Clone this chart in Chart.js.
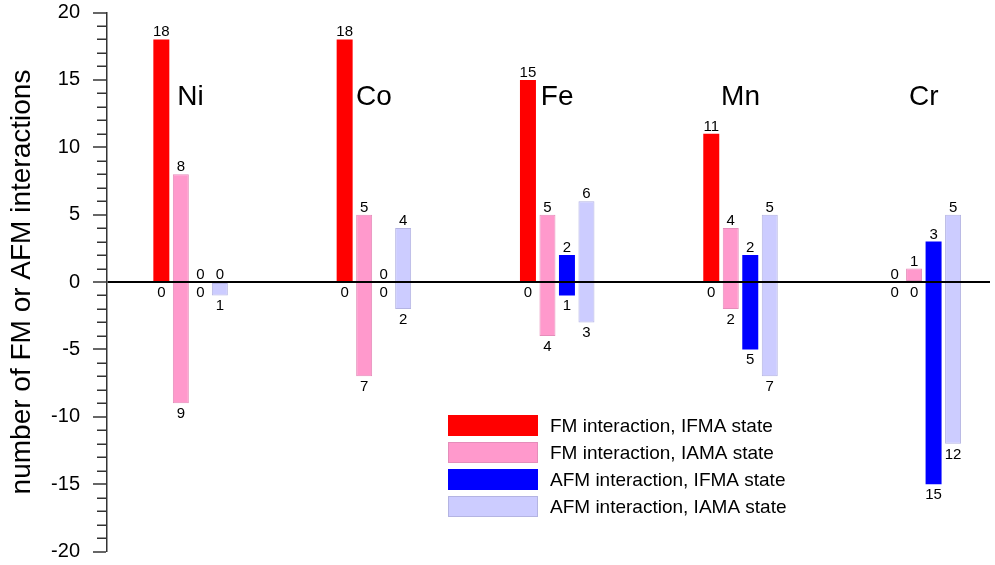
<!DOCTYPE html>
<html>
<head>
<meta charset="utf-8">
<script src="https://cdn.jsdelivr.net/npm/chart.js@4.4.1/dist/chart.umd.min.js"></script>
<style>
  html, body { margin: 0; padding: 0; background: #fff; }
  canvas { display: block; }
</style>
</head>
<body>
<canvas id="chart" width="995" height="565"></canvas>
<script>
// ============ data ============
const elementsList = ["Ni", "Co", "Fe", "Mn", "Cr"];
const seriesNames = [
  "FM interaction, IFMA state",
  "FM interaction, IAMA state",
  "AFM interaction, IFMA state",
  "AFM interaction, IAMA state",
];
// number of interactions above (up) and below (down) the zero line
const fmIfmaUp = [18, 18, 15, 11, 0];
const fmIfmaDown = [0, 0, 0, 0, 0];
const fmIamaUp = [8, 5, 5, 4, 1];
const fmIamaDown = [9, 7, 4, 2, 0];
const afmIfmaUp = [0, 0, 2, 2, 3];
const afmIfmaDown = [0, 0, 1, 5, 15];
const afmIamaUp = [0, 4, 6, 5, 5];
const afmIamaDown = [1, 2, 3, 7, 12];
const yTickValues = [-20, -15, -10, -5, 0, 5, 10, 15, 20];

// ============ styles ============
const FONT = '"Liberation Sans", Arial, sans-serif';
const fills = ["#ff0000", "#ff99cc", "#0000ff", "#ccccff"];
const borders = ["#ff0000", "#e58dba", "#0000ff", "#b4b4e2"];
const borderWidths = [0, 1, 0, 1];

const seriesUp = [fmIfmaUp, fmIamaUp, afmIfmaUp, afmIamaUp];
const seriesDown = [fmIfmaDown, fmIamaDown, afmIfmaDown, afmIamaDown];

const datasets = seriesNames.map((name, k) => ({
  label: name,
  data: elementsList.map((_, i) => ({ x: i, y: [-seriesDown[k][i], seriesUp[k][i]] })),
  backgroundColor: fills[k],
  borderColor: borders[k],
  borderWidth: borderWidths[k],
  borderSkipped: false,
  categoryPercentage: 0.4255,
  barPercentage: 0.82,
}));

// labels on both ends of every bar, element names, minor ticks, legend
const decorPlugin = {
  id: "decor",
  afterDraw(chart) {
    const ctx = chart.ctx;
    const xs = chart.scales.x;
    const ys = chart.scales.y;
    ctx.save();

    // minor ticks
    ctx.strokeStyle = "#333";
    ctx.lineWidth = 1.5;
    for (let v = ys.min; v <= ys.max; v++) {
      if (v % 5 === 0) continue;
      const py = Math.round(ys.getPixelForValue(v)) + 0.25;
      ctx.beginPath();
      ctx.moveTo(chart.chartArea.left - 10, py);
      ctx.lineTo(chart.chartArea.left, py);
      ctx.stroke();
    }

    // value labels
    ctx.fillStyle = "#000";
    ctx.font = "15px " + FONT;
    ctx.textAlign = "center";
    ctx.textBaseline = "alphabetic";
    chart.data.datasets.forEach((ds, di) => {
      const meta = chart.getDatasetMeta(di);
      meta.data.forEach((bar, i) => {
        const [lo, hi] = ds.data[i].y;
        ctx.fillText(String(hi), bar.x, ys.getPixelForValue(hi) - 3);
        ctx.fillText(String(Math.abs(lo)), bar.x, ys.getPixelForValue(lo) + 15);
      });
    });

    // element names
    ctx.font = "28px " + FONT;
    elementsList.forEach((name, i) => {
      ctx.fillText(name, xs.getPixelForValue(i), ys.getPixelForValue(13.1));
    });

    // legend
    ctx.font = "19px " + FONT;
    ctx.textAlign = "left";
    ctx.textBaseline = "middle";
    const lx = 448, ly = 415, lw = 90, lh = 21, step = 27;
    chart.data.datasets.forEach((ds, k) => {
      const top = ly + k * step;
      ctx.fillStyle = ds.backgroundColor;
      ctx.fillRect(lx, top, lw, lh);
      if (ds.borderWidth) {
        ctx.strokeStyle = ds.borderColor;
        ctx.lineWidth = 1;
        ctx.strokeRect(lx + 0.5, top + 0.5, lw - 1, lh - 1);
      }
      ctx.fillStyle = "#000";
      ctx.fillText(ds.label, lx + 102, top + lh / 2 + 1);
    });
    ctx.restore();
  },
};

window.addEventListener("load", () => {
  const ctx = document.getElementById("chart").getContext("2d");
  new Chart(ctx, {
    type: "bar",
    data: { datasets: datasets },
    plugins: [decorPlugin],
    options: {
      responsive: false,
      animation: false,
      devicePixelRatio: 1,
      layout: { padding: { left: 0, right: 5, top: 12.5, bottom: 13.5 } },
      plugins: {
        legend: { display: false },
        tooltip: { enabled: false },
      },
      scales: {
        x: {
          type: "linear",
          display: false,
          offset: false,
          min: -0.456,
          max: 4.361,
          afterBuildTicks: (s) => {
            s.ticks = elementsList.map((_, i) => ({ value: i }));
          },
        },
        y: {
          min: -20,
          max: 20,
          afterBuildTicks: (s) => {
            s.ticks = yTickValues.map((v) => ({ value: v }));
          },
          afterFit: (s) => {
            s.width = 107;
            s.paddingTop = 0;
            s.paddingBottom = 0;
          },
          border: { display: true, color: "#333", width: 1.5, z: 2 },
          grid: {
            z: 1,
            drawTicks: true,
            tickLength: 14,
            tickColor: "#333",
            tickWidth: 1.5,
            color: (c) => (c.tick && c.tick.value === 0 ? "#000" : "rgba(0,0,0,0)"),
            lineWidth: (c) => (c.tick && c.tick.value === 0 ? 2 : 0),
          },
          ticks: {
            padding: 13,
            color: "#000",
            font: { family: FONT, size: 20 },
          },
          title: {
            display: true,
            text: "number of FM or AFM interactions",
            color: "#000",
            font: { family: FONT, size: 28 },
            padding: { top: 5, bottom: 4 },
          },
        },
      },
    },
  });
});
</script>
</body>
</html>
